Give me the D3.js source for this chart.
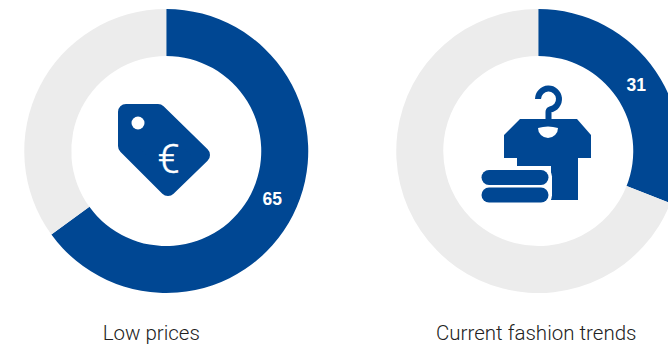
<!DOCTYPE html>
<html><head><meta charset="utf-8">
<script src="https://cdn.jsdelivr.net/npm/d3@7"></script>
<style>html,body{margin:0;padding:0;background:#fff;overflow:hidden}svg{display:block}</style>
</head><body><svg id="c" width="668" height="345"></svg>
<script>
const categories = ["Low prices", "Current fashion trends"];
const seriesValues = [65, 31];
const total = 100;
const BLUE = "#004793", GREY = "#ececec";
const svg = d3.select("#c");
const cx = d3.scalePoint().domain(categories).range([166.25, 538.25]);
const cy = 151, R = 142, r = 95;
const arc = d3.arc().innerRadius(r).outerRadius(R);
const pie = d3.pie().sort(null);
const iconPaths = {
  "Low prices": g => {
    g.append("path").attr("fill", BLUE).attr("stroke", BLUE).attr("stroke-width", 16).attr("stroke-linejoin", "round")
      .attr("d", "M126,112 H158 L202,155 L168,188 L126,146 Z");
    g.append("circle").attr("cx", 138).attr("cy", 123).attr("r", 6.5).attr("fill", "#fff");
    g.append("text").attr("x", 168.5).attr("y", 173).attr("text-anchor", "middle")
      .attr("font-family", "Roboto, sans-serif").attr("font-weight", 300).attr("font-size", 40)
      .attr("stroke", "#fff").attr("stroke-width", 0.4).attr("fill", "#fff").text("€");
  },
  "Current fashion trends": g => {
    g.append("path").attr("fill", "none").attr("stroke", BLUE).attr("stroke-width", 6)
      .attr("d", "M538,99 A10.5,10.5 0 1 1 550,109.5 Q548.5,110 548.5,112 V122");
    g.append("path").attr("fill", BLUE)
      .attr("d", "M520,119 H577 L591,135 V158 L578,158 V200 L551,200 V166 L517,166 V158 H504 V135 Z");
    g.append("path").attr("fill", "#fff").attr("d", "M538,128 Q548,125 558,128 A10,10 0 0 1 538,128 Z");
    g.append("rect").attr("x", 470).attr("y", 167.5).attr("width", 82).attr("height", 37).attr("rx", 9).attr("fill", "#fff");
    g.append("rect").attr("x", 481.5).attr("y", 170).attr("width", 67).attr("height", 15).attr("rx", 7.5).attr("fill", BLUE);
    g.append("rect").attr("x", 481.5).attr("y", 187.5).attr("width", 67).attr("height", 15).attr("rx", 7.5).attr("fill", BLUE);
  }
};
categories.forEach((cat, i) => {
  const v = seriesValues[i];
  const g = svg.append("g").attr("transform", `translate(${cx(cat)},${cy})`);
  const arcs = pie([v, total - v]);
  g.selectAll("path").data(arcs).join("path").attr("d", arc).attr("fill", (d, j) => j ? GREY : BLUE);
  const [lx, ly] = arc.centroid(arcs[0]);
  g.append("text").attr("x", lx + (i ? 0 : 0.5)).attr("y", ly + (i === 0 ? -6 : 0)).attr("dy", "0.36em").attr("text-anchor", "middle")
    .attr("font-family", "Liberation Sans, Arial, sans-serif").attr("font-weight", 700).attr("font-size", 17.5).attr("fill", "#fff").text(v);
  iconPaths[cat](svg.append("g"));
  svg.append("text").attr("x", cx(cat) + (i ? -2 : -15)).attr("y", 340).attr("text-anchor", "middle")
    .attr("font-family", "Roboto, sans-serif").attr("font-weight", 300).attr("font-size", 20.5).attr("fill", "#222").text(cat);
});
</script></body></html>
